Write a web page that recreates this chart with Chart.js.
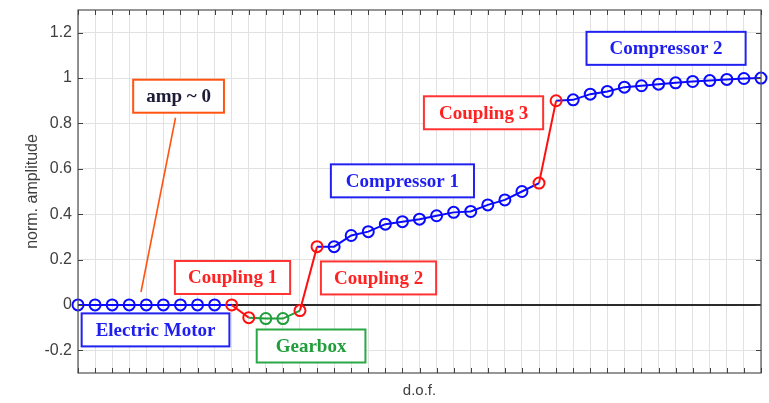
<!DOCTYPE html>
<html>
<head>
<meta charset="utf-8">
<script src="https://cdn.jsdelivr.net/npm/chart.js@4/dist/chart.umd.min.js"></script>
<style>
  html, body { margin: 0; padding: 0; background: #ffffff; }
  canvas { display: block; }
</style>
</head>
<body>
<canvas id="modeShape" width="769" height="403"></canvas>
<script>
// Normalised mode-shape amplitude per degree of freedom, grouped by machine component
const electricMotor = [0, 0, 0, 0, 0, 0, 0, 0, 0];
const coupling1     = [0, -0.056];
const gearbox       = [-0.06, -0.06];
const coupling2     = [-0.025, 0.257];
const compressor1   = [0.257, 0.306, 0.323, 0.356, 0.367, 0.378, 0.393, 0.408, 0.412, 0.441, 0.463, 0.5];
const coupling3     = [0.537, 0.9];
const compressor2   = [0.904, 0.929, 0.941, 0.96, 0.966, 0.973, 0.979, 0.985, 0.989, 0.994, 0.998, 1.0];

const yTicks      = [-0.2, 0, 0.2, 0.4, 0.6, 0.8, 1, 1.2];
const yTickLabels = ['-0.2', '0', '0.2', '0.4', '0.6', '0.8', '1', '1.2'];

const amplitude = [].concat(electricMotor, coupling1, gearbox, coupling2, compressor1, coupling3, compressor2);
const dof = amplitude.map((_, i) => String(i + 1));

// index ranges of each component along the shaft
const motorEnd = electricMotor.length - 1;
const c1Start = motorEnd + 1, c1End = c1Start + 1;
const gbStart = c1End + 1, gbEnd = gbStart + gearbox.length - 1;
const c2Start = gbEnd + 1, c2End = c2Start + 1;
const cp1Start = c2End + 1, cp1End = cp1Start + compressor1.length - 1;
const c3Start = cp1End + 1, c3End = c3Start + 1;
const cp2Start = c3End + 1, cp2End = cp2Start + compressor2.length - 1;

function span(from, to) {
  return amplitude.map((v, i) => (i >= from && i <= to ? v : null));
}
function marksAt(from, to) {
  return ctx => (ctx.dataIndex >= from && ctx.dataIndex <= to ? 5.5 : 0);
}
const couplingIdx = [c1Start, c1End, c2Start, c2End, c3Start, c3End];

const BLUE = '#0a0aff', RED = '#ff1010', GREEN = '#1f9e3a';

function lineSet(data, color, radius) {
  return {
    data: data,
    borderColor: color,
    borderWidth: 2,
    pointStyle: 'circle',
    pointRadius: radius,
    pointHoverRadius: radius,
    pointBorderColor: color,
    pointBackgroundColor: 'rgba(0,0,0,0)',
    pointBorderWidth: 2,
    spanGaps: false,
    tension: 0,
    clip: false
  };
}

// Labelled boxes placed in data coordinates (x = dof index, y = amplitude)
const labels = [
  { text: 'amp ~ 0',        x: 5.89,  y: 0.92,   padX: 13, color: '#1c1c38', border: '#ff5511' },
  { text: 'Electric Motor', x: 4.54,  y: -0.11,  padX: 14, color: '#1e1ef0', border: '#2222f0' },
  { text: 'Coupling 1',     x: 9.05,  y: 0.121,  padX: 13, color: '#ff2222', border: '#ff3333' },
  { text: 'Gearbox',        x: 13.65, y: -0.181, padX: 19, color: '#1f9e3a', border: '#2aa845' },
  { text: 'Coupling 2',     x: 17.6,  y: 0.119,  padX: 13, color: '#ff2222', border: '#ff3333' },
  { text: 'Compressor 1',   x: 19.0,  y: 0.547,  padX: 15, color: '#1e1ef0', border: '#2222f0' },
  { text: 'Coupling 3',     x: 23.75, y: 0.847,  padX: 15, color: '#ff2222', border: '#ff3333' },
  { text: 'Compressor 2',   x: 34.44, y: 1.131,  padX: 23, color: '#1e1ef0', border: '#2222f0' }
];
const pointer = { from: [5.71, 0.825], to: [3.69, 0.057], color: '#ff5511' };

const decorations = {
  id: 'decorations',
  beforeDatasetsDraw(chart) {
    const { ctx, chartArea: a, scales: { y } } = chart;
    const y0 = y.getPixelForValue(0);
    ctx.save();
    ctx.strokeStyle = '#2b2b2b';
    ctx.lineWidth = 2;
    ctx.beginPath();
    ctx.moveTo(a.left, y0);
    ctx.lineTo(a.right, y0);
    ctx.stroke();
    ctx.restore();
  },
  afterDraw(chart) {
    const { ctx, chartArea: a, scales: { x, y } } = chart;
    ctx.save();
    // plot frame
    ctx.strokeStyle = '#505050';
    ctx.lineWidth = 1.2;
    ctx.strokeRect(a.left, a.top, a.right - a.left, a.bottom - a.top);
    // inward tick marks
    ctx.lineWidth = 1;
    ctx.strokeStyle = '#404040';
    ctx.beginPath();
    x.ticks.forEach((t, i) => {
      const px = Math.round(x.getPixelForTick(i)) + 0.5;
      ctx.moveTo(px, a.bottom); ctx.lineTo(px, a.bottom - 5);
      ctx.moveTo(px, a.top); ctx.lineTo(px, a.top + 5);
    });
    y.ticks.forEach(t => {
      const py = Math.round(y.getPixelForValue(t.value)) + 0.5;
      ctx.moveTo(a.left, py); ctx.lineTo(a.left + 5, py);
      ctx.moveTo(a.right, py); ctx.lineTo(a.right - 5, py);
    });
    ctx.stroke();

    // pointer line from the "amp ~ 0" box
    ctx.strokeStyle = pointer.color;
    ctx.lineWidth = 1.6;
    ctx.beginPath();
    ctx.moveTo(x.getPixelForValue(pointer.from[0]), y.getPixelForValue(pointer.from[1]));
    ctx.lineTo(x.getPixelForValue(pointer.to[0]), y.getPixelForValue(pointer.to[1]));
    ctx.stroke();

    // labelled boxes
    ctx.font = 'bold 19px "Liberation Serif", "Times New Roman", serif';
    ctx.textAlign = 'center';
    ctx.textBaseline = 'middle';
    labels.forEach(l => {
      const cx = x.getPixelForValue(l.x);
      const cy = y.getPixelForValue(l.y);
      const w = ctx.measureText(l.text).width + 2 * l.padX;
      const h = 33;
      ctx.fillStyle = '#ffffff';
      ctx.fillRect(cx - w / 2, cy - h / 2, w, h);
      ctx.strokeStyle = l.border;
      ctx.lineWidth = 2;
      ctx.strokeRect(cx - w / 2, cy - h / 2, w, h);
      ctx.fillStyle = l.color;
      ctx.fillText(l.text, cx, cy + 1);
    });
    ctx.restore();
  }
};

new Chart(document.getElementById('modeShape'), {
  type: 'line',
  data: {
    labels: dof,
    datasets: [
      lineSet(amplitude.map((v, i) => (couplingIdx.includes(i) ? v : null)), RED, 5.5),
      lineSet(span(c1End, c2Start), GREEN, marksAt(gbStart, gbEnd)),
      lineSet(span(0, c1Start), BLUE, marksAt(0, motorEnd)),
      lineSet(span(c2End, c3Start), BLUE, marksAt(cp1Start, cp1End)),
      lineSet(span(c3End, cp2End), BLUE, marksAt(cp2Start, cp2End))
    ]
  },
  options: {
    responsive: false,
    devicePixelRatio: 1,
    animation: false,
    events: [],
    layout: { padding: { left: 0, right: 8, top: 10, bottom: 0 } },
    plugins: { legend: { display: false }, tooltip: { enabled: false } },
    scales: {
      x: {
        type: 'category',
        offset: false,
        grid: { color: '#e2e2e2', lineWidth: 1, drawTicks: false },
        border: { display: false },
        ticks: { display: false },
        title: {
          display: true,
          text: 'd.o.f.',
          color: '#404040',
          font: { family: '"Liberation Sans", Arial, sans-serif', size: 15 },
          padding: { top: 0, bottom: 3 }
        },
        afterFit(scale) { scale.height = 30; scale.paddingLeft = 0; scale.paddingRight = 0; }
      },
      y: {
        type: 'linear',
        min: -0.3,
        max: 1.3,
        afterBuildTicks(scale) { scale.ticks = yTicks.map(v => ({ value: v })); },
        grid: { color: '#e2e2e2', lineWidth: 1, drawTicks: false },
        border: { display: false },
        ticks: {
          color: '#404040',
          padding: 6,
          font: { family: '"Liberation Sans", Arial, sans-serif', size: 16 },
          callback(value) {
            const k = yTicks.findIndex(t => Math.abs(t - value) < 1e-9);
            return k >= 0 ? yTickLabels[k] : '';
          }
        },
        title: {
          display: true,
          text: 'norm. amplitude',
          color: '#404040',
          font: { family: '"Liberation Sans", Arial, sans-serif', size: 16 },
          padding: { top: 23, bottom: 0 }
        },
        afterFit(scale) { scale.width = 78; scale.paddingTop = 0; scale.paddingBottom = 0; }
      }
    }
  },
  plugins: [decorations]
});
</script>
</body>
</html>
